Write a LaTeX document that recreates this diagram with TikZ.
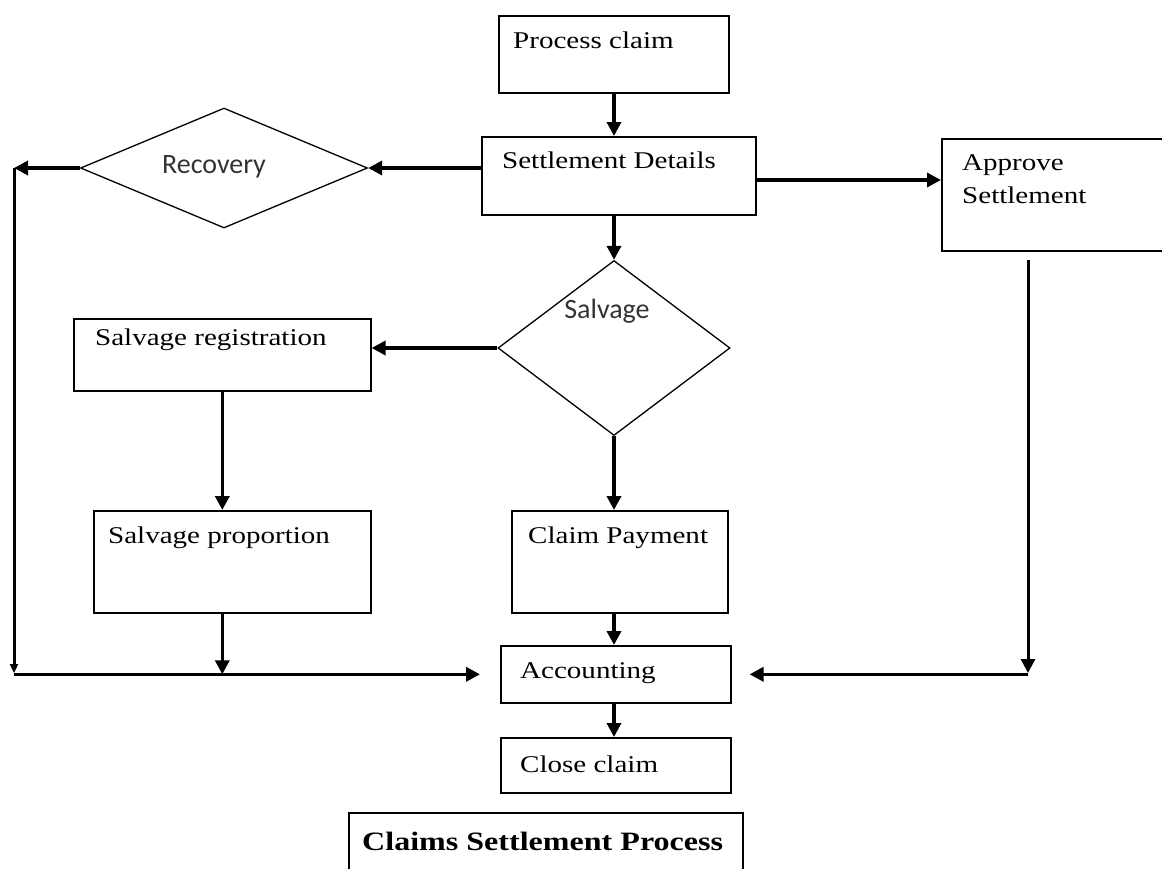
\documentclass[tikz,border=0pt]{standalone}
\usepackage{fontspec}
\setmainfont{Liberation Serif}[FakeStretch=1.21]
\newfontfamily\calfont{Carlito}
\usetikzlibrary{shapes.geometric,arrows.meta,calc}
\begin{document}
\begin{tikzpicture}[x=1pt,y=-1pt,
  box/.style={draw, line width=1.6pt, inner sep=0pt, anchor=north west},
  dia/.style={draw, diamond, line width=1.3pt, inner sep=0pt},
  txt/.style={anchor=base west, inner sep=0pt, font=\fontsize{24}{28}\selectfont},
  ttl/.style={anchor=base west, inner sep=0pt, font=\bfseries\fontsize{26.5}{30}\selectfont},
  stxt/.style={anchor=base, inner sep=0pt, font=\calfont\fontsize{28}{32}\selectfont, text=black!80},
  tip/.style={-{Triangle[length=14pt,width=14pt]}},
  arr/.style={line width=3.5pt, tip},
  thin arr/.style={line width=3pt, tip}]
\useasboundingbox (0,0) rectangle (1162,868);
% boxes
\node[box, minimum width=230pt, minimum height=77pt] (pc) at (498,15) {};
\node[box, minimum width=274pt, minimum height=78pt] (sd) at (481,136) {};
\node[box, minimum width=240pt, minimum height=112pt] (ap) at (941,138) {};
\node[box, minimum width=297pt, minimum height=72pt] (sreg) at (73,318) {};
\node[box, minimum width=277pt, minimum height=102pt] (sprop) at (93,510) {};
\node[box, minimum width=216pt, minimum height=102pt] (cp) at (511,510) {};
\node[box, minimum width=230pt, minimum height=57pt] (acc) at (500,645) {};
\node[box, minimum width=230pt, minimum height=55pt] (cc) at (500,737) {};
\node[box, minimum width=394pt, minimum height=80pt] (ttlbox) at (348,812) {};
% diamonds
\node[dia, minimum width=287pt, minimum height=120pt] (rec) at (224,168) {};
\node[dia, minimum width=232pt, minimum height=175pt] (sal) at (614,348) {};
% texts
\node[txt] (tpc) at (513,48) {Process claim};
\node[txt] (tsd) at (502,168) {Settlement Details};
\node[txt] (tap1) at (962,170) {Approve};
\node[txt] (tap2) at (962,203) {Settlement};
\node[txt] (tsreg) at (95,345) {Salvage registration};
\node[txt] (tsprop) at (108,543) {Salvage proportion};
\node[txt] (tcp) at (528,543) {Claim Payment};
\node[txt] (tacc) at (520,678) {Accounting};
\node[txt] (tcc) at (520,772) {Close claim};
\node[ttl] (tttl) at (362,850) {Claims Settlement Process};
\node[stxt] (trec) at (214,173) {Recovery};
\node[stxt] (tsal) at (607,318) {Salvage};
% helper coordinates
\coordinate (L1) at (14,168);
\coordinate (L2) at (14,673);
\coordinate (R1) at (1028,260);
\coordinate (R2) at (1028,673);
% connectors
\draw[arr] (sal.north |- pc.south) -- (sal.north |- sd.north);
\draw[arr] (sd.west |- rec.east) -- (rec.east);
\draw[arr] (rec.west) -- (L1);
\draw[line width=3pt, -{Triangle[length=9pt,width=8pt]}] (L1) -- (L2);
\draw[arr, shorten >=20pt] (L2 |- acc.west) -- (acc.west);
\draw[line width=4pt, tip] ($(sd.north east)+(0,44)$) -- ($(ap.north west)+(0,42)$);
\draw[thin arr] (R1) -- (R2);
\draw[arr, shorten >=18pt] (R2 |- acc.east) -- (acc.east);
\draw[arr] (sal.north |- sd.south) -- (sal.north);
\draw[arr] (sal.west) -- (sreg.east |- sal.west);
\draw[arr] (sal.south) -- (sal.south |- cp.north);
\draw[arr] (sreg.south) -- (sreg.south |- sprop.north);
\draw[arr] (sreg.south |- sprop.south) -- (sreg.south |- acc.west);
\draw[arr] (sal.south |- cp.south) -- (sal.south |- acc.north);
\draw[arr] (sal.south |- acc.south) -- (sal.south |- cc.north);
\end{tikzpicture}
\end{document}
